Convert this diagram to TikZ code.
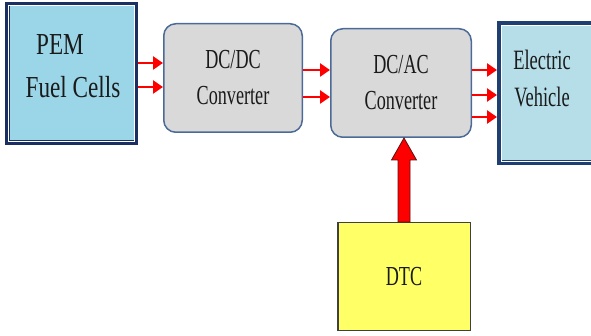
\documentclass[tikz,border=0pt]{standalone}
\usepackage{fontspec}
\usetikzlibrary{arrows.meta,calc}
\newfontfamily\boxfont[FakeStretch=0.66]{Liberation Serif}
\newfontfamily\pemfont[FakeStretch=0.76]{Liberation Serif}
\definecolor{navy}{HTML}{1B2F63}
\definecolor{evnavy}{HTML}{1F3F72}
\definecolor{pemfill}{HTML}{9AD6E8}
\definecolor{evfill}{HTML}{B5DEE9}
\definecolor{convfill}{HTML}{D9D9D9}
\definecolor{convedge}{HTML}{4C6A98}
\definecolor{dtcfill}{HTML}{FFFF66}
\definecolor{dtcedge}{HTML}{404040}
\definecolor{arrowedge}{HTML}{5A1212}
\definecolor{inktext}{HTML}{1A1A1A}
\begin{document}
\begin{tikzpicture}[x=1pt,y=-1pt,
  sourcebox/.style={draw=navy,fill=pemfill,line width=4.5pt,rectangle},
  loadbox/.style={draw=evnavy,fill=evfill,line width=5pt,rectangle},
  convbox/.style={draw=convedge,fill=convfill,line width=1.5pt,rounded corners=12pt,
    rectangle,align=center,text=inktext,font=\boxfont\fontsize{27.5}{36}\selectfont},
  ctrlbox/.style={draw=dtcedge,fill=dtcfill,line width=1.5pt,rectangle,text=inktext,
    font=\boxfont\fontsize{27.5}{36}\selectfont},
  lbl/.style={align=center,inner sep=0pt,text=inktext},
  innerline/.style={draw=white,line width=0.8pt},
  sarr/.style={draw=red,line width=2.4pt,-{Triangle[length=10pt,width=13pt]}},
  bigarrow/.style={fill=red,draw=arrowedge,line width=0.8pt,line join=miter}]
\useasboundingbox (0,0) rectangle (591,336);
\clip (0,0) rectangle (591,336);

% blocks
\node[sourcebox,minimum width=128.5pt,minimum height=138.5pt] (pem) at (71.5,73.5) {};
\node[convbox,minimum width=138.5pt,minimum height=108.5pt] (dcdc) at (233,78) {DC/DC\\Converter};
\node[convbox,minimum width=140.5pt,minimum height=108.5pt] (dcac) at (401,83) {DC/AC\\Converter};
\node[loadbox,minimum width=100pt,minimum height=139pt] (ev) at (549.5,93) {};
\node[ctrlbox,minimum width=132.5pt,minimum height=107.5pt] (dtc) at (404,276.5) {DTC};

% thin light rims inside the thick frames
\draw[innerline] ([shift={(3.8pt,3.8pt)}]pem.south west) rectangle ([shift={(-3.8pt,-3.8pt)}]pem.north east);
\draw[innerline] ([shift={(4pt,4pt)}]ev.south west) rectangle ([shift={(-4pt,-4pt)}]ev.north east);

% block labels
\node[lbl,font=\pemfont\fontsize{30.5}{43}\selectfont,anchor=base] (pemtxt) at (60,55) {PEM};
\node[lbl,font=\pemfont\fontsize{30.5}{43}\selectfont,anchor=base] (fctxt) at (73,98) {Fuel Cells};
\node[lbl,font=\boxfont\fontsize{28}{37}\selectfont,anchor=base] (evtxt1) at (542,70) {Electric};
\node[lbl,font=\boxfont\fontsize{28}{37}\selectfont,anchor=base] (evtxt2) at (542,107) {Vehicle};

% power flow
\coordinate (a1) at (0,63);
\coordinate (a2) at (0,87);
\coordinate (b1) at (0,70);
\coordinate (b2) at (0,97);
\coordinate (c1) at (0,70);
\coordinate (c2) at (0,95);
\coordinate (c3) at (0,117);
\draw[sarr] (pem.east |- a1) -- (dcdc.west |- a1);
\draw[sarr] (pem.east |- a2) -- (dcdc.west |- a2);
\draw[sarr] (dcdc.east |- b1) -- (dcac.west |- b1);
\draw[sarr] (dcdc.east |- b2) -- (dcac.west |- b2);
\draw[sarr] (dcac.east |- c1) -- (ev.west |- c1);
\draw[sarr] (dcac.east |- c2) -- (ev.west |- c2);
\draw[sarr] (dcac.east |- c3) -- (ev.west |- c3);

% control signal from DTC
\coordinate (tip) at (dtc.north |- dcac.south);
\filldraw[bigarrow] ($(dtc.north)+(-6,0)$) -- ($(tip)+(-6,22)$) -- ($(tip)+(-12.5,22)$)
  -- (tip) -- ($(tip)+(12.5,22)$) -- ($(tip)+(6,22)$) -- ($(dtc.north)+(6,0)$) -- cycle;
\end{tikzpicture}
\end{document}
